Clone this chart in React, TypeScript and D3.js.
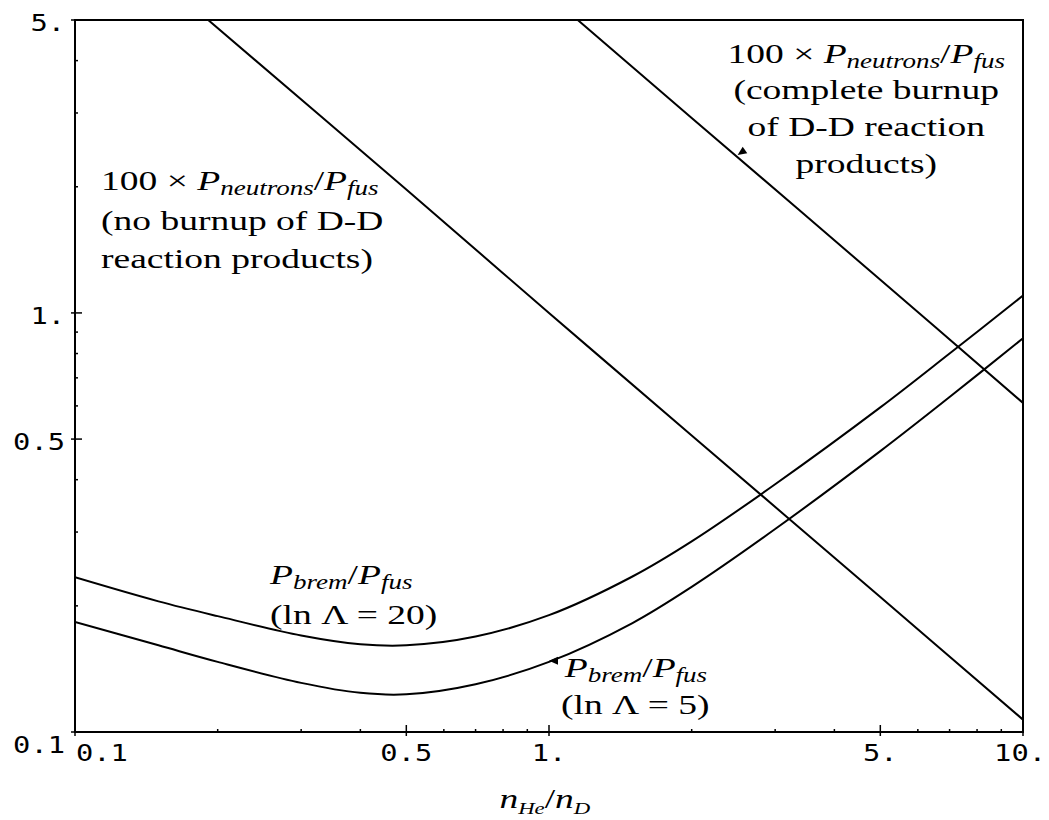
import React from 'react';
import * as d3 from 'd3';

// tick values / labels
const xMajor = [0.1, 0.5, 1, 5, 10];
const xMajorLabels = ['0.1', '0.5', '1.', '5.', '10.'];
const xMinor = [0.2, 0.3, 0.4, 0.6, 0.7, 0.8, 0.9, 2, 3, 4, 6, 7, 8, 9];
const yMajor = [0.1, 0.5, 1, 5];
const yMajorLabels = ['0.1', '0.5', '1.', '5.'];
const yMinor = [0.2, 0.3, 0.4, 0.6, 0.7, 0.8, 0.9, 2, 3, 4];

// series: [nHe/nD, value]
const neutronsNoBurnup: [number, number][] = [
  [0.191, 5], [0.5, 1.97], [1, 1.0], [2, 0.51], [5, 0.21], [10, 0.107],
];
const neutronsCompleteBurnup: [number, number][] = [
  [1.15, 5], [2, 2.92], [5, 1.2], [10, 0.61],
];
const bremLn20: [number, number][] = [
  [0.1, 0.234], [0.15, 0.205], [0.2, 0.189], [0.3, 0.17], [0.4, 0.162], [0.5, 0.161],
  [0.7, 0.169], [1, 0.19], [1.5, 0.235], [2, 0.285], [3, 0.39], [5, 0.595], [7, 0.8], [10, 1.1],
];
const bremLn5: [number, number][] = [
  [0.1, 0.183], [0.15, 0.161], [0.2, 0.147], [0.3, 0.131], [0.4, 0.124], [0.5, 0.123],
  [0.7, 0.13], [1, 0.147], [1.5, 0.182], [2, 0.222], [3, 0.305], [5, 0.468], [7, 0.63], [10, 0.87],
];

const W = 1049;
const H = 820;
const margin = { top: 20, right: 26, bottom: 88, left: 75 };
const SX = 1.34; // scanned TeX text is wide
const SXM = 1.25;
const serif = '"Liberation Serif", "Times New Roman", serif';
const mono = '"DejaVu Sans Mono", monospace';

const st = (x: number, y: number, s = SX) => `translate(${x},${y}) scale(${s},1)`;

function Frac({ num, sub1, sub2, size = 28 }: { num?: string; sub1: string; sub2: string; size?: number }) {
  const s = size * 0.72;
  return (
    <>
      {num && <tspan>{num}</tspan>}
      <tspan fontStyle="italic">P</tspan>
      <tspan fontStyle="italic" fontSize={s} dy={5}>{sub1}</tspan>
      <tspan dy={-5}>/</tspan>
      <tspan fontStyle="italic">P</tspan>
      <tspan fontStyle="italic" fontSize={s} dy={5}>{sub2}</tspan>
    </>
  );
}

export default function App() {
  const x = d3.scaleLog().domain([0.1, 10]).range([margin.left, W - margin.right]);
  const y = d3.scaleLog().domain([0.1, 5]).range([H - margin.bottom, margin.top]);
  const x0 = x(0.1), x1 = x(10), y0 = y(0.1), y1 = y(5);

  const line = d3.line<[number, number]>()
    .x(d => x(d[0]))
    .y(d => y(d[1]))
    .curve(d3.curveCatmullRom.alpha(0.5));

  const series = [neutronsNoBurnup, neutronsCompleteBurnup, bremLn20, bremLn5];

  // little arrow heads pointing at curves
  const arrow = (px: number, py: number, angle: number) =>
    <path d="M0,0 L9,-4 L9,4 Z" fill="#000" transform={`translate(${px},${py}) rotate(${angle})`} />;

  const last = xMajor.length - 1;

  return (
    <div style={{ position: 'absolute', left: 0, top: 0 }}>
      <svg width={W} height={H} style={{ display: 'block', background: '#fff' }}>
        <defs>
          <clipPath id="plot">
            <rect x={x0} y={y1} width={x1 - x0} height={y0 - y1} />
          </clipPath>
        </defs>

        {/* frame */}
        <rect x={x0} y={y1} width={x1 - x0} height={y0 - y1} fill="none" stroke="#000" strokeWidth={2} />

        {/* x ticks */}
        {xMinor.map(v => (
          <line key={'xm' + v} x1={x(v)} x2={x(v)} y1={y0 - 3} y2={y0 + 1} stroke="#000" strokeWidth={1.5} />
        ))}
        {xMajor.map(v => (
          <line key={'xM' + v} x1={x(v)} x2={x(v)} y1={y0 - 7} y2={y0 + 4} stroke="#000" strokeWidth={1.5} />
        ))}
        {xMajor.map((v, i) => (
          <text key={'xl' + v}
            transform={st(i === 0 ? x(v) + 1 : i === last ? W - 3 : x(v), 761, SXM)}
            textAnchor={i === 0 ? 'start' : i === last ? 'end' : 'middle'}
            fontFamily={mono} fontSize={23}>{xMajorLabels[i]}</text>
        ))}

        {/* y ticks */}
        {yMinor.map(v => (
          <line key={'ym' + v} x1={x0 - 1} x2={x0 + 3} y1={y(v)} y2={y(v)} stroke="#000" strokeWidth={1.5} />
        ))}
        {yMajor.map(v => (
          <line key={'yM' + v} x1={x0 - 4} x2={x0 + 7} y1={y(v)} y2={y(v)} stroke="#000" strokeWidth={1.5} />
        ))}
        {yMajor.map((v, i) => (
          <text key={'yl' + v} transform={st(x0 - 10, i === 0 ? y(v) + 21 : y(v) + 11, SXM)} textAnchor="end"
            fontFamily={mono} fontSize={23}>{yMajorLabels[i]}</text>
        ))}

        {/* curves */}
        <g clipPath="url(#plot)">
          {series.map((s, i) => (
            <path key={i} d={line(s) ?? ''} fill="none" stroke="#000" strokeWidth={2} />
          ))}
        </g>

        {/* annotations */}
        <g fontFamily={serif} fontSize={28} fill="#000">
          <text transform={st(x(0.1135), y(1.96))}>
            <Frac num={'100 \u00d7 '} sub1="neutrons" sub2="fus" />
          </text>
          <text transform={st(x(0.1135), y(1.96) + 40)}>(no burnup of D-D</text>
          <text transform={st(x(0.1135), y(1.96) + 78)}>reaction products)</text>

          <text transform={st(x(4.67), y(3.95))} textAnchor="middle">
            <Frac num={'100 \u00d7 '} sub1="neutrons" sub2="fus" />
          </text>
          <text transform={st(x(4.67), y(3.95) + 36)} textAnchor="middle">(complete burnup</text>
          <text transform={st(x(4.67), y(3.95) + 73)} textAnchor="middle">of D-D reaction</text>
          <text transform={st(x(4.67), y(3.95) + 110)} textAnchor="middle">products)</text>

          <text transform={st(x(0.258), y(0.226))}>
            <Frac sub1="brem" sub2="fus" />
          </text>
          <text transform={st(x(0.258), y(0.226) + 40)}>(ln {'\u039b'} = 20)</text>

          <text transform={st(x(1.08), y(0.135))}>
            <Frac sub1="brem" sub2="fus" />
          </text>
          <text transform={st(x(1.06), y(0.135) + 37)}>(ln {'\u039b'} = 5)</text>

          {/* x axis title */}
          <text transform={st(x(0.98), 808)} textAnchor="middle">
            <tspan fontStyle="italic">n</tspan>
            <tspan fontStyle="italic" fontSize={17} dy={6}>He</tspan>
            <tspan dy={-6}>/</tspan>
            <tspan fontStyle="italic">n</tspan>
            <tspan fontStyle="italic" fontSize={17} dy={6}>D</tspan>
          </text>
        </g>

        {arrow(x(2.5), y(2.38), -35)}
        {arrow(x(1.0), y(0.148), 0)}
      </svg>
    </div>
  );
}
